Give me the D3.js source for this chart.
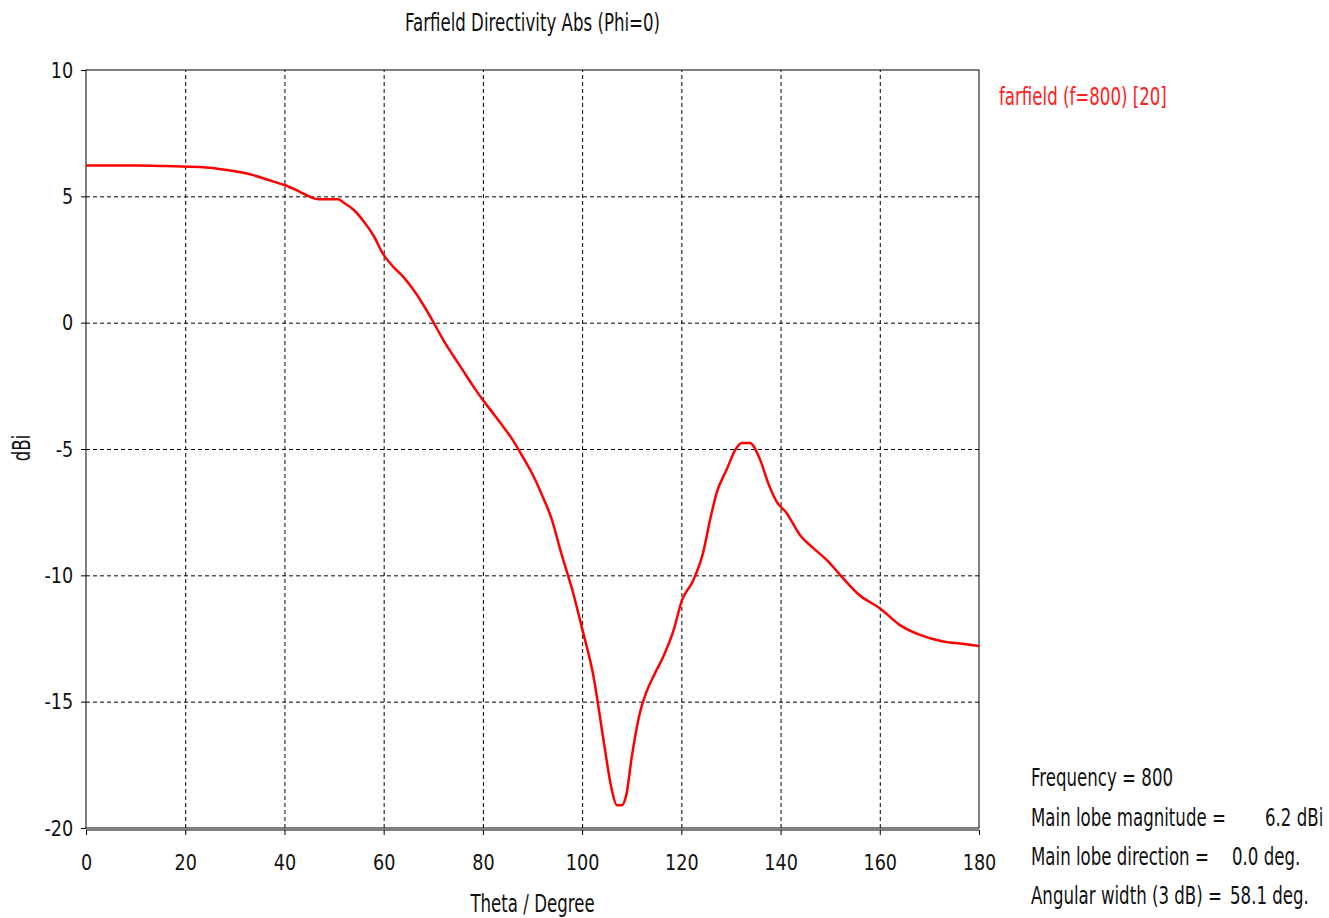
<!DOCTYPE html>
<head>
<meta charset="utf-8">
<script src="https://d3js.org/d3.v7.min.js"></script>
<style>
  body { margin: 0; background: #fff; }
  text { font-family: "DejaVu Sans", sans-serif; font-size: 25px; fill: #111; }
  .grid line { stroke: #000; stroke-dasharray: 4,3; }
  .grid path { display: none; }
  .axis path { display: none; }
  .axis line { stroke: #000; }
</style>
</head>
<body>
<div class="chart"></div>
<script>
  // theta (deg) vs directivity (dBi)
  var theta = [0, 10, 16, 23, 28.4, 33.7, 37.8, 40, 43.1, 45.8, 47, 50.8, 52, 54, 56, 58, 60, 62, 64, 66, 68, 70, 72, 74, 76, 78, 80, 82, 84, 86, 88, 90, 92, 94, 95.5, 98.2, 99.9, 102.3, 104.3, 106, 107, 108, 109, 110, 111.7, 113, 114.7, 116.4, 118.4, 120.1, 122.4, 124.4, 125.8, 127.1, 129.1, 131.1, 132.2, 133.8, 135.9, 137.5, 139.2, 141.2, 143.9, 146.6, 149.3, 152, 156, 160, 164, 168.1, 172.8, 176.2, 180];
  var dbi = [6.22, 6.22, 6.2, 6.16, 6.04, 5.84, 5.58, 5.45, 5.18, 4.93, 4.88, 4.88, 4.74, 4.46, 4.0, 3.43, 2.68, 2.2, 1.8, 1.3, 0.7, 0.03, -0.68, -1.3, -1.9, -2.5, -3.06, -3.57, -4.09, -4.64, -5.3, -6.0, -6.86, -7.85, -8.92, -10.7, -12.03, -14.0, -16.5, -18.5, -19.1, -19.1, -18.6, -17.2, -15.4, -14.6, -13.87, -13.2, -12.2, -11.0, -10.2, -9.1, -7.8, -6.75, -5.83, -4.96, -4.76, -4.76, -5.43, -6.35, -7.08, -7.53, -8.4, -8.92, -9.39, -9.98, -10.8, -11.3, -11.96, -12.36, -12.62, -12.7, -12.8];

  var xTicks = [0, 20, 40, 60, 80, 100, 120, 140, 160, 180];
  var yTicks = [10, 5, 0, -5, -10, -15, -20];

  var infoLabels = ["Frequency = 800", "Main lobe magnitude =", "Main lobe direction =", "Angular width (3 dB) ="];
  var infoValues = ["", "6.2 dBi", "0.0 deg.", "58.1 deg."];

  var W = 1329, H = 918;
  var margin = {left: 86, top: 70, right: 350, bottom: 90};
  var width = W - margin.left - margin.right,
      height = H - margin.top - margin.bottom;
  var squeeze = "scale(0.665,1)";     // narrow font look for labels
  var tickSqueeze = "scale(0.8,1)";

  var svg = d3.select(".chart").append("svg")
      .attr("width", W).attr("height", H);

  // text helper: position, then squeeze horizontally
  function label(parent, px, py, s, anchor, rot) {
    return parent.append("text")
      .attr("transform", "translate(" + px + "," + py + ")" + (rot ? " rotate(" + rot + ")" : "") + " " + squeeze)
      .attr("text-anchor", anchor || "start")
      .text(s);
  }

  var x = d3.scaleLinear().domain([0, 180]).range([0, width]);
  var y = d3.scaleLinear().domain([-20, 10]).range([height, 0]);

  var g = svg.append("g").attr("transform", "translate(" + margin.left + "," + margin.top + ")");

  // grid
  g.append("g").attr("class", "grid")
      .attr("transform", "translate(0," + height + ")")
      .call(d3.axisBottom(x).tickValues(xTicks.slice(1, -1)).tickSize(-height).tickFormat(""));
  g.append("g").attr("class", "grid")
      .call(d3.axisLeft(y).tickValues(yTicks.slice(1, -1)).tickSize(-width).tickFormat(""));

  // frame
  g.append("rect").attr("width", width).attr("height", height)
      .attr("fill", "none").attr("stroke", "#000").attr("stroke-width", 1);
  g.append("line").attr("x1", 0).attr("x2", width).attr("y1", height + 2).attr("y2", height + 2)
      .attr("stroke", "#000").attr("stroke-width", 1);

  // axes
  var xAxis = g.append("g").attr("class", "axis")
      .attr("transform", "translate(0," + (height + 2) + ")")
      .call(d3.axisBottom(x).tickValues(xTicks).tickSize(5).tickPadding(19));
  var yAxis = g.append("g").attr("class", "axis")
      .call(d3.axisLeft(y).tickValues(yTicks).tickSize(5).tickPadding(11)
        .tickFormat(function(d) { return String(d); }));
  xAxis.selectAll("text").style("font-size", "22px").attr("fill", "#111").attr("transform", tickSqueeze);
  yAxis.selectAll("text").style("font-size", "22px").attr("fill", "#111").attr("transform", tickSqueeze);

  // curve
  var line = d3.line()
      .x(function(d, i) { return x(theta[i]); })
      .y(function(d) { return y(d); })
      .curve(d3.curveMonotoneX);
  g.append("path").datum(dbi)
      .attr("d", line)
      .attr("fill", "none")
      .attr("stroke", "#ff0000")
      .attr("stroke-width", 2.5);

  // titles
  label(svg, margin.left + width / 2, 31, "Farfield Directivity Abs (Phi=0)", "middle");
  label(svg, margin.left + width / 2, 912, "Theta / Degree", "middle");
  label(svg, 30, 448, "dBi", "middle", -90);

  // legend
  label(svg, 999, 105, "farfield (f=800) [20]").style("fill", "#ff2020");

  // info block
  var infoY = [786, 826, 865, 904];
  var valX = [0, 1265, 1232, 1230];
  infoLabels.forEach(function(t, i) {
    label(svg, 1031, infoY[i], t);
    if (infoValues[i]) label(svg, valX[i], infoY[i], infoValues[i]);
  });
</script>
</body>
